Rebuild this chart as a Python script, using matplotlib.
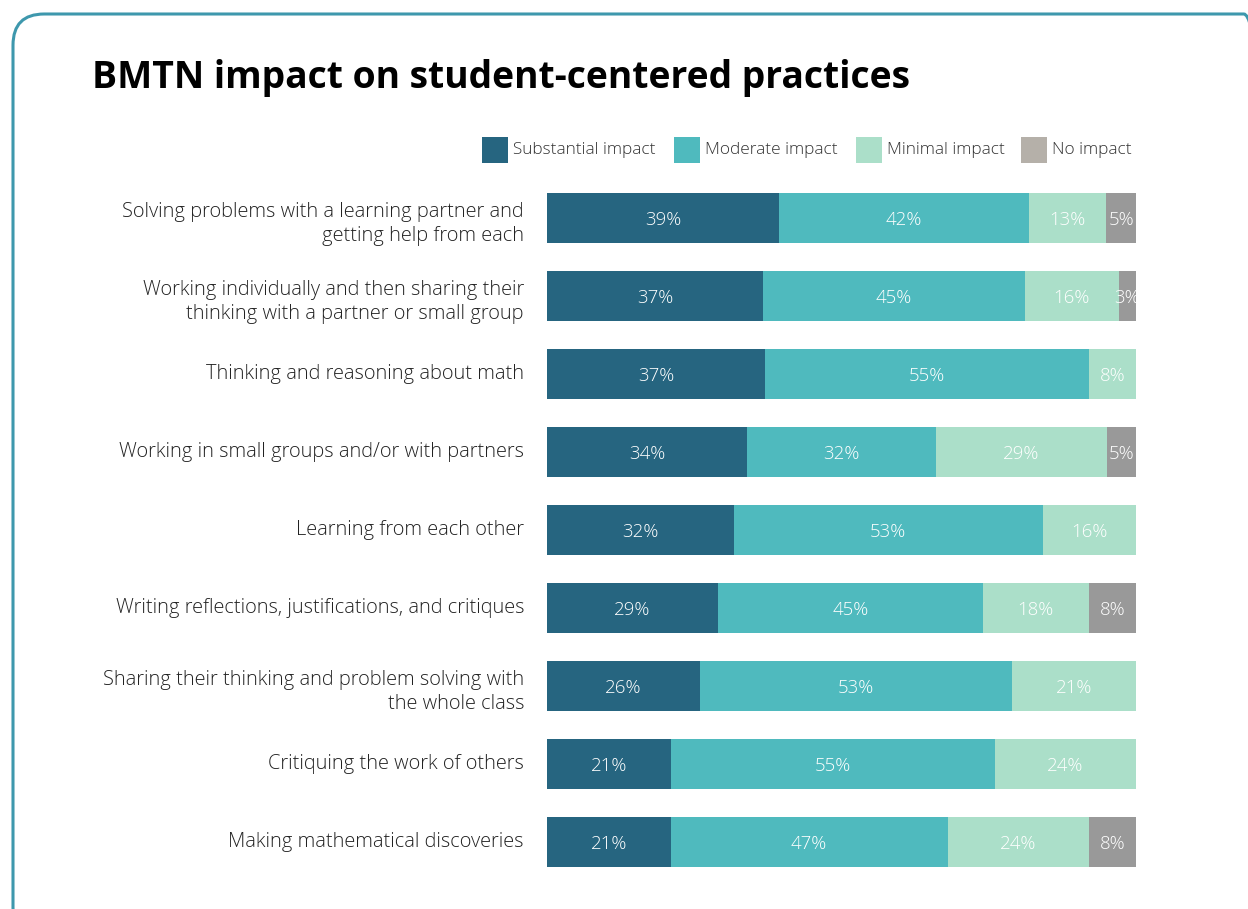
import matplotlib.pyplot as plt
from matplotlib.patches import FancyBboxPatch, Rectangle
import numpy as np

# ========== Datos ==========
categories = [
    "Solving problems with a learning partner and\ngetting help from each",
    "Working individually and then sharing their\nthinking with a partner or small group",
    "Thinking and reasoning about math",
    "Working in small groups and/or with partners",
    "Learning from each other",
    "Writing reflections, justifications, and critiques",
    "Sharing their thinking and problem solving with\nthe whole class",
    "Critiquing the work of others",
    "Making mathematical discoveries",
]
substantial = [39, 37, 37, 34, 32, 29, 26, 21, 21]
moderate = [42, 45, 55, 32, 53, 45, 53, 55, 47]
minimal = [13, 16, 8, 29, 16, 18, 21, 24, 24]
no_impact = [5, 3, 0, 5, 0, 8, 0, 0, 8]

series_names = ["Substantial impact", "Moderate impact", "Minimal impact", "No impact"]
bar_colors = ["#266580", "#4fbabe", "#abdfc9", "#999999"]
legend_colors = ["#266580", "#4fbabe", "#abdfc9", "#b5b0a9"]

FONT = "Open Sans"

# ========== Figura ==========
fig = plt.figure(figsize=(12.48, 9.09), dpi=100)
W, H = 1248, 909

# marco redondeado
frame = FancyBboxPatch((13 / W, -30 / H), 1262 / W, (H - 14 + 30) / H,
                       boxstyle="round,pad=0,rounding_size=0.025",
                       transform=fig.transFigure, fill=False,
                       edgecolor="#3e98ad", linewidth=2.2, mutation_aspect=W / H)
fig.patches.append(frame)

fig.text(92 / W, 1 - 88 / H, "BMTN impact on student-centered practices",
         fontsize=26.8, fontweight="bold", family=FONT, color="black",
         ha="left", va="baseline")

ax = fig.add_axes([547 / W, 1 - 881 / H, (1136 - 547) / W, 702 / H])

data = np.array([substantial, moderate, minimal, no_impact], dtype=float)
totals = data.sum(axis=0)
shares = data / totals * 100
y = np.arange(len(categories))
left = np.zeros(len(categories))
for i in range(4):
    ax.barh(y, shares[i], left=left, height=0.65, color=bar_colors[i], linewidth=0)
    for j in range(len(categories)):
        if data[i, j] > 0:
            ax.text(left[j] + shares[i, j] / 2, y[j] + 0.02, f"{int(data[i, j])}%",
                    ha="center", va="center", color="white", fontsize=13.4,
                    family=FONT, fontweight="light")
    left += shares[i]

ax.set_xlim(0, 100)
ax.set_ylim(len(categories) - 0.5, -0.5)
ax.axis("off")

for j, cat in enumerate(categories):
    dy = 0.08 if "\n" in cat else 0.0
    ax.text(-23 / 589 * 100, y[j] + dy, cat, ha="right", va="center", fontsize=14.4,
            family=FONT, fontweight="light", color="#222222", linespacing=1.3)

# leyenda
legend_x = [482, 674, 856, 1021]
for x0, name, col in zip(legend_x, series_names, legend_colors):
    fig.patches.append(Rectangle((x0 / W, 1 - 163 / H), 26 / W, 26 / H,
                                 transform=fig.transFigure, color=col, linewidth=0))
    fig.text((x0 + 31) / W, 1 - 150 / H, name, fontsize=12.4, family=FONT,
             fontweight="light", color="#333333", ha="left", va="center")

fig.savefig("out.png", dpi=100)
